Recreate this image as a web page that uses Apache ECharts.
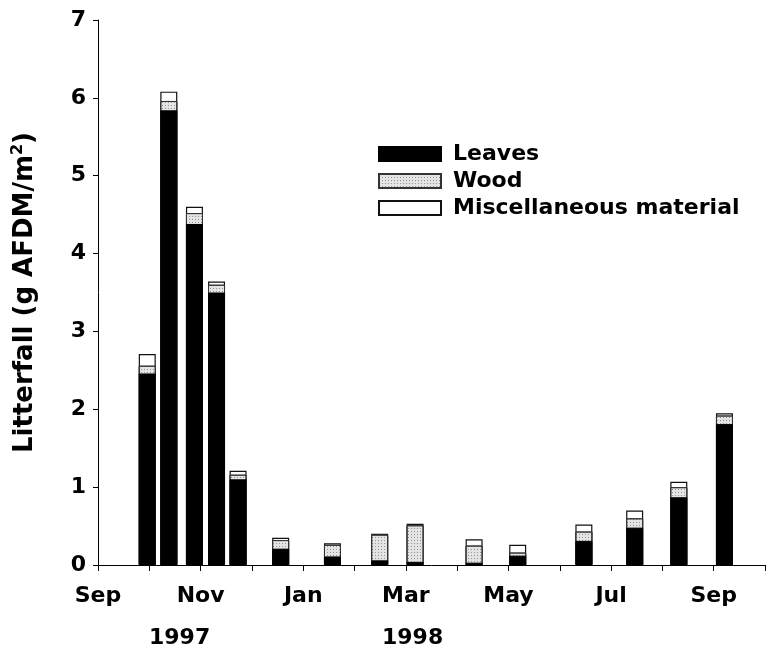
<!DOCTYPE html>
<html>
<head>
<meta charset="utf-8">
<script src="https://cdn.jsdelivr.net/npm/echarts@6/dist/echarts.min.js"></script>
<style>
html,body{margin:0;padding:0;background:#fff;}
#chart{width:768px;height:654px;}
</style>
</head>
<body>
<div id="chart"></div>
<script>
// months since 1 Sep 1997
const sampleMonths = [0.96, 1.38, 1.88, 2.31, 2.73, 3.56, 4.57, 5.49, 6.18, 7.33, 8.18, 9.47, 10.46, 11.32, 12.21];
const leaves = [2.46, 5.84, 4.38, 3.50, 1.10, 0.21, 0.11, 0.06, 0.04, 0.03, 0.12, 0.31, 0.48, 0.87, 1.81];
const wood   = [0.10, 0.12, 0.14, 0.10, 0.06, 0.11, 0.15, 0.33, 0.47, 0.22, 0.04, 0.12, 0.12, 0.13, 0.11];
const misc   = [0.15, 0.12, 0.08, 0.04, 0.05, 0.03, 0.02, 0.01, 0.02, 0.08, 0.10, 0.09, 0.10, 0.07, 0.03];
const monthLabels = ['Sep','','Nov','','Jan','','Mar','','May','','Jul','','Sep'];
const yearLabels = ['1997', '1998'];
const seriesNames = ['Leaves', 'Wood', 'Miscellaneous material'];

const font = '"DejaVu Sans", sans-serif';
// cumulative tops (stack built for the library: drawn as overlapping bars)
const topLeaves = leaves.slice();
const topWood = leaves.map((v, i) => v + wood[i]);
const topMisc = leaves.map((v, i) => v + wood[i] + misc[i]);
const pairs = arr => arr.map((v, i) => [sampleMonths[i], +v.toFixed(3)]);

const woodDecal = {
  symbol: 'rect',
  symbolSize: 1,
  color: 'rgba(0,0,0,0.35)',
  dashArrayX: [1, 2],
  dashArrayY: [1, 2],
  rotation: 0
};

const chart = echarts.init(document.getElementById('chart'), null, {renderer: 'canvas'});
chart.setOption({
  animation: false,
  backgroundColor: '#fff',
  grid: {left: 98, right: -6, top: 20, bottom: 89, containLabel: false},
  legend: {
    orient: 'vertical',
    left: 373,
    top: 138,
    itemWidth: 62,
    itemHeight: 14,
    itemGap: 5,
    icon: 'rect',
    data: seriesNames,
    textStyle: {fontFamily: font, fontSize: 22, fontWeight: 'bold', color: '#000', padding: [0, 0, 0, 7]}
  },
  xAxis: {
    type: 'value',
    min: 0,
    max: 13,
    interval: 1,
    splitLine: {show: false},
    axisLine: {lineStyle: {color: '#000', width: 1}},
    axisTick: {show: true, length: 6, inside: false, lineStyle: {color: '#000'}},
    axisLabel: {
      margin: 20,
      fontFamily: font, fontSize: 22, fontWeight: 'bold', color: '#000',
      formatter: v => (Number.isInteger(v) && monthLabels[v]) ? monthLabels[v] : ''
    }
  },
  yAxis: {
    type: 'value',
    min: 0,
    max: 7,
    interval: 1,
    splitLine: {show: false},
    axisLine: {show: true, lineStyle: {color: '#000', width: 1}},
    axisTick: {show: true, length: 5, inside: false, lineStyle: {color: '#000'}},
    axisLabel: {margin: 12, fontFamily: font, fontSize: 22, fontWeight: 'bold', color: '#000'},
    name: '{t|Litterfall (g AFDM/m}{s|2}{t|)}',
    nameLocation: 'middle',
    nameGap: 58,
    nameRotate: 90,
    nameTextStyle: {
      rich: {
        t: {fontFamily: font, fontSize: 26, fontWeight: 'bold', color: '#000'},
        s: {fontFamily: font, fontSize: 16, fontWeight: 'bold', color: '#000', verticalAlign: 'top', padding: [0, 0, 14, 0]}
      }
    }
  },
  series: [
    {
      name: seriesNames[2], type: 'bar', barWidth: 17, barGap: '-100%',
      data: pairs(topMisc),
      itemStyle: {color: '#fff', borderColor: '#111', borderWidth: 1.2}
    },
    {
      name: seriesNames[1], type: 'bar', barWidth: 17, barGap: '-100%',
      data: pairs(topWood),
      itemStyle: {color: '#e4e4e4', borderColor: '#333', borderWidth: 1, decal: woodDecal}
    },
    {
      name: seriesNames[0], type: 'bar', barWidth: 17, barGap: '-100%',
      data: pairs(topLeaves),
      itemStyle: {color: '#000', borderColor: '#000', borderWidth: 1}
    }
  ],
  graphic: [
    {type: 'text', left: 149, top: 627, style: {text: yearLabels[0], font: 'bold 22px ' + font, fill: '#000'}},
    {type: 'text', left: 382, top: 627, style: {text: yearLabels[1], font: 'bold 22px ' + font, fill: '#000'}}
  ]
});
</script>
</body>
</html>
